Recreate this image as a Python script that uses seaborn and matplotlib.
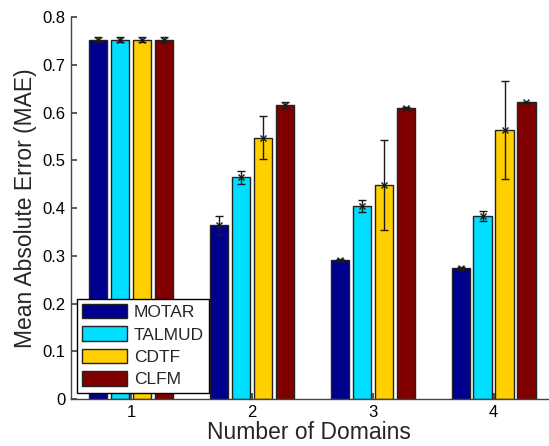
import numpy as np
import pandas as pd
import seaborn as sns
import matplotlib.pyplot as plt

sns.set_theme(style='white')
plt.rcParams['font.family'] = ['Liberation Sans', 'DejaVu Sans']

# data
domains = ['1', '2', '3', '4']
methods = ['MOTAR', 'TALMUD', 'CDTF', 'CLFM']
motar = [0.752, 0.364, 0.291, 0.274]
talmud = [0.752, 0.464, 0.404, 0.383]
cdtf = [0.752, 0.547, 0.449, 0.563]
clfm = [0.752, 0.615, 0.609, 0.621]
motar_err = [0.005, 0.020, 0.002, 0.003]
talmud_err = [0.005, 0.014, 0.012, 0.010]
cdtf_err = [0.005, 0.045, 0.094, 0.103]
clfm_err = [0.005, 0.007, 0.002, 0.002]
colors = ['#00008f', '#00dfff', '#ffcf00', '#800000']

values = [motar, talmud, cdtf, clfm]
errors = [motar_err, talmud_err, cdtf_err, clfm_err]

df = pd.DataFrame({
    'domain': np.tile(domains, len(methods)),
    'method': np.repeat(methods, len(domains)),
    'mae': np.concatenate(values),
})

fig = plt.figure(figsize=(5.49, 4.46), dpi=100)
ax = fig.add_axes([0.129, 0.105, 0.869, 0.857])

sns.barplot(data=df, x='domain', y='mae', hue='method', order=domains,
            hue_order=methods, palette=colors, width=0.727, gap=0.17,
            edgecolor='#222222', linewidth=1, saturation=1, errorbar=None, ax=ax)

# error bars on top of each bar
for cont, err in zip(ax.containers, errors):
    xs = [b.get_x() + b.get_width() / 2 for b in cont]
    hs = [b.get_height() for b in cont]
    ax.errorbar(xs, hs, yerr=err, fmt='x', color='k', ms=4, mew=1,
                elinewidth=1, capsize=3, capthick=1, zorder=5)

ax.set_xlim(-0.5, 3.45)
ax.set_ylim(0, 0.8)
ax.set_yticks(np.arange(0, 0.81, 0.1))
ax.set_yticklabels(['0', '0.1', '0.2', '0.3', '0.4', '0.5', '0.6', '0.7', '0.8'])
ax.tick_params(direction='in', length=4, labelsize=12, colors='#444444',
               labelcolor='black', left=True, bottom=True, pad=4)
ax.set_xlabel('Number of Domains', fontsize=16.5, labelpad=1)
ax.set_ylabel('Mean Absolute Error (MAE)', fontsize=16.5, labelpad=4)
sns.despine(ax=ax)
for s in ['left', 'bottom']:
    ax.spines[s].set_color('#444444')
    ax.spines[s].set_linewidth(1)

ax.legend(loc='lower left', bbox_to_anchor=(0.012, 0.017), fontsize=12.5,
          frameon=True, fancybox=False, edgecolor='black', framealpha=1,
          handlelength=2.6, handleheight=0.9, labelspacing=0.36,
          borderpad=0.3, handletextpad=0.4, borderaxespad=0)

fig.savefig('out.png', dpi=100)
